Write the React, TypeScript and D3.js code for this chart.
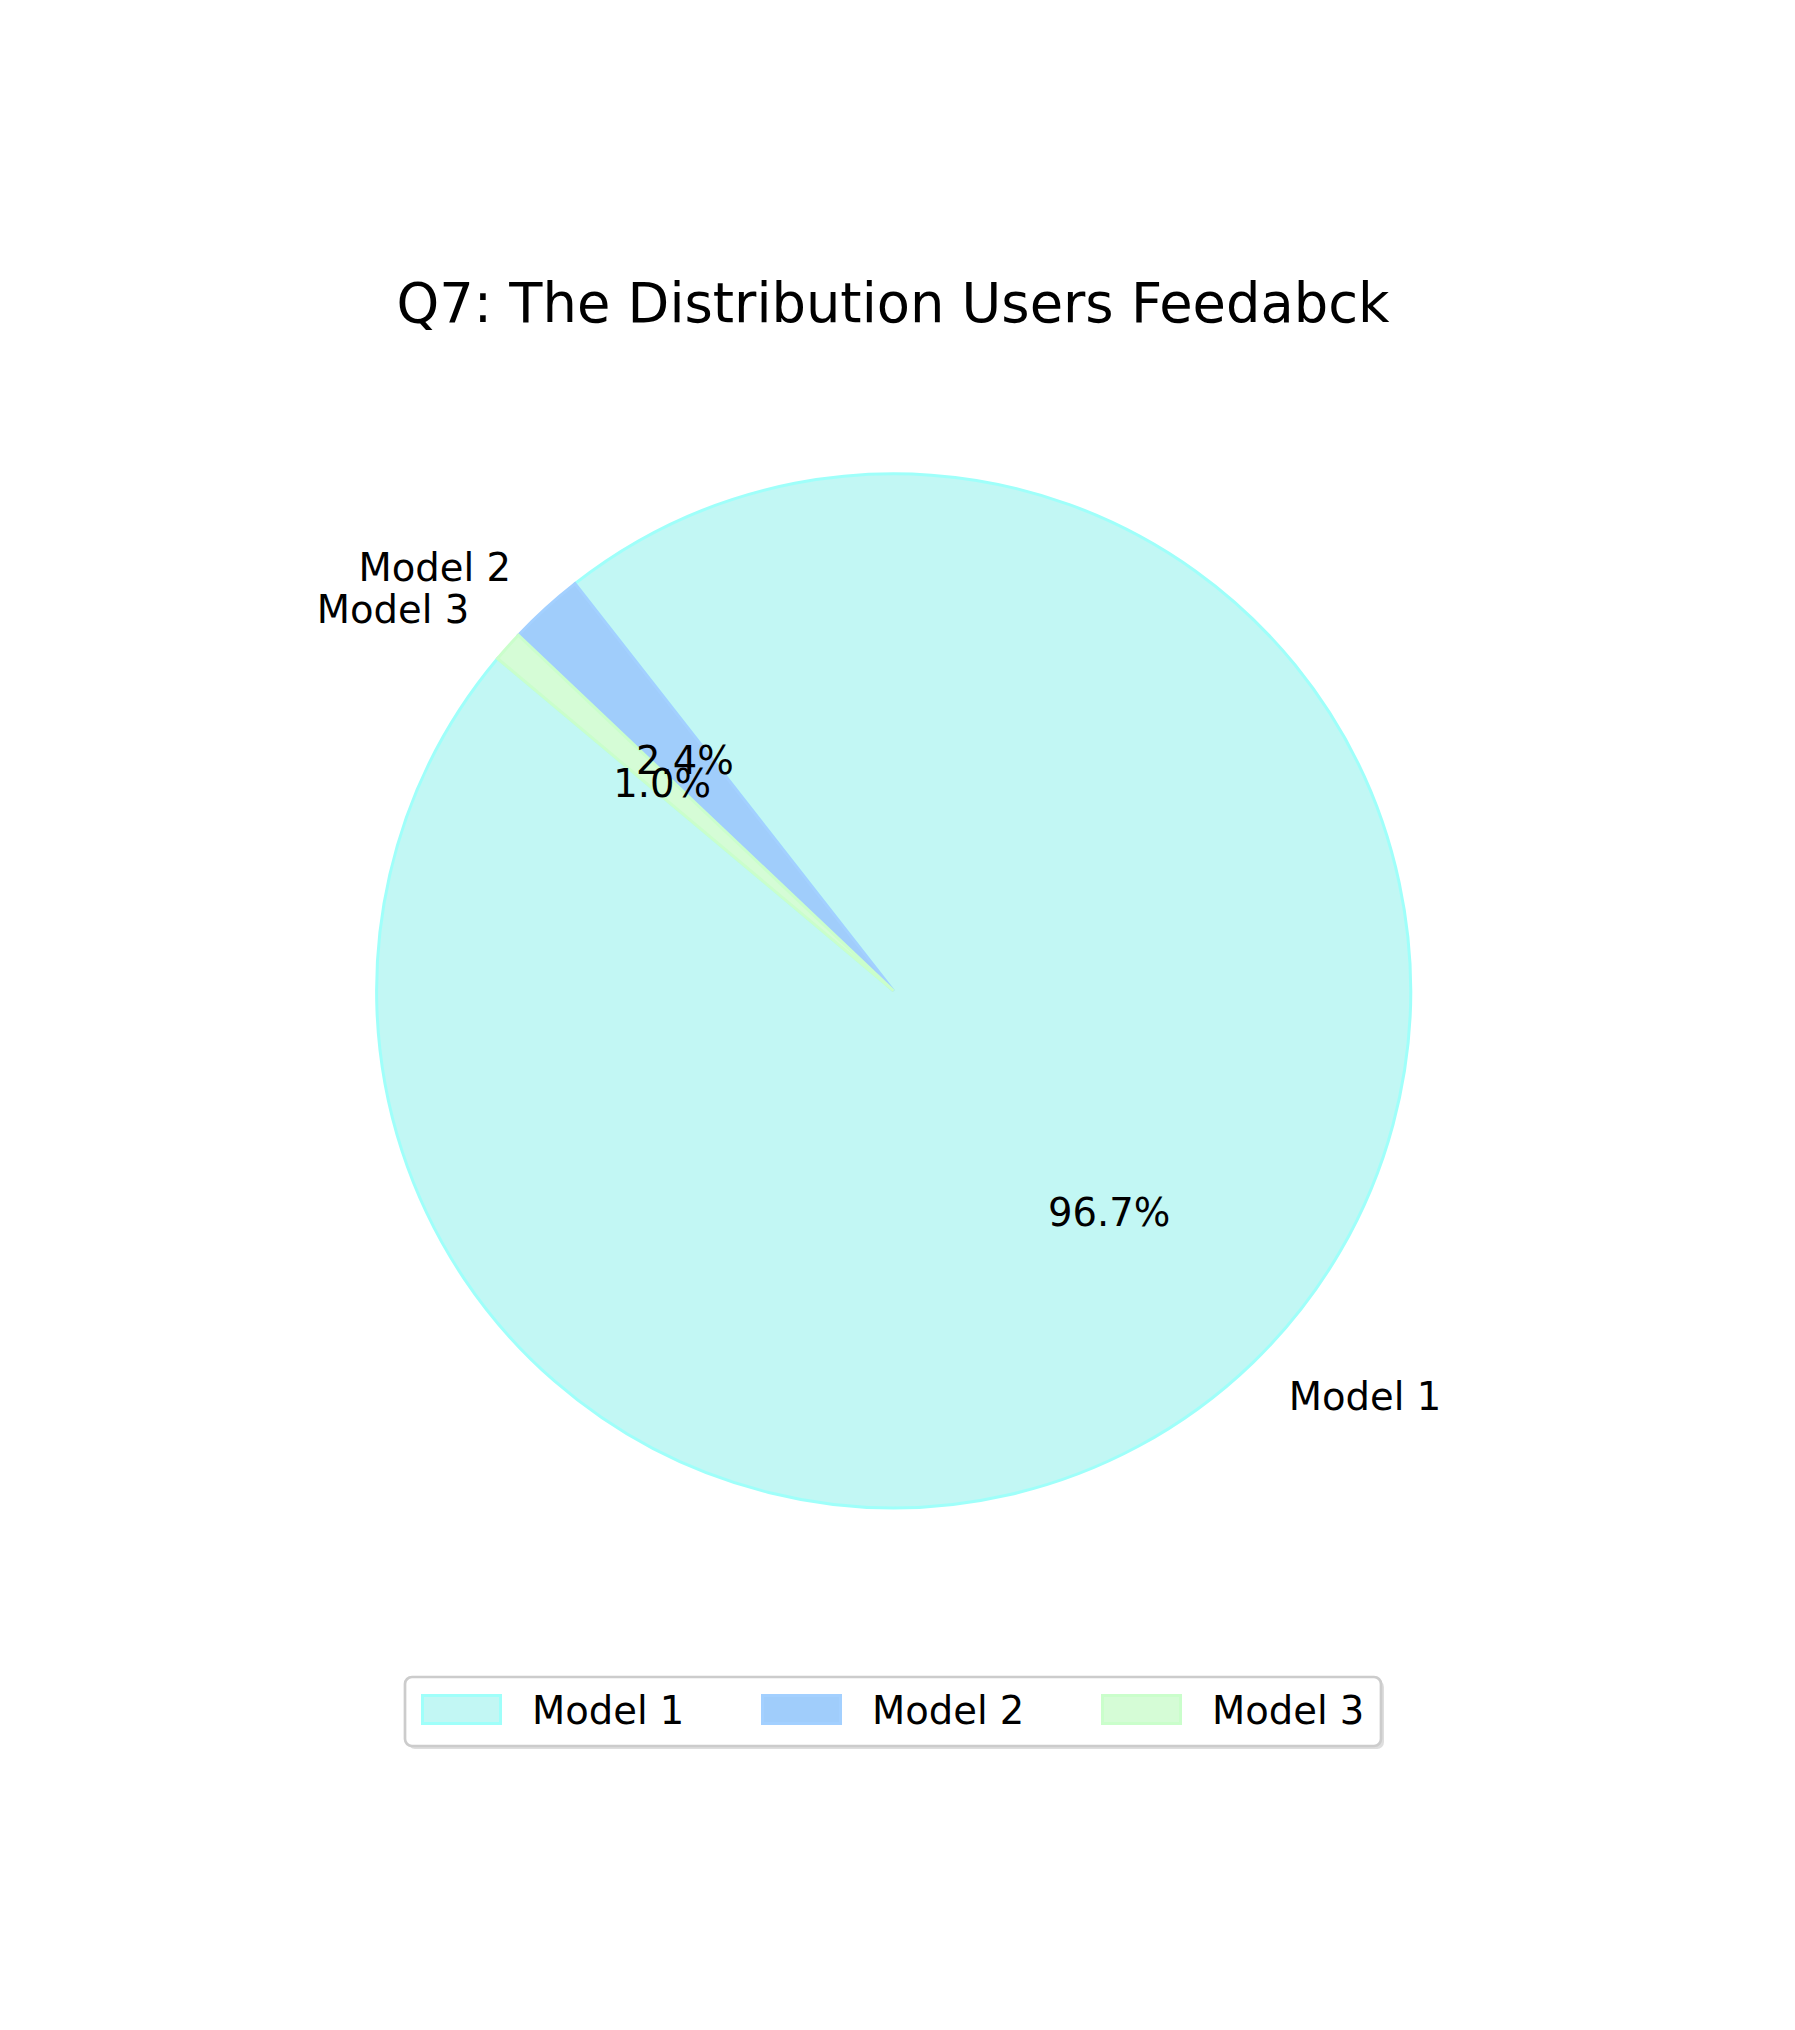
import React from "react";
import * as d3 from "d3";

const title = "Q7: The Distribution Users Feedabck";
const categories = ["Model 1", "Model 2", "Model 3"];
const values = [96.68, 2.36, 0.96];
const fillColors = ["#c2f7f4", "#a0cdfb", "#d5fcd6"];
const strokeColors = ["#9ffffa", "#a3d0ff", "#cafecb"];
const startAngleDeg = 140; // matplotlib-style, counter-clockwise from 3 o'clock

const W = 1795;
const H = 2030;
const cx = 893.6;
const cy = 990.8;
const R = 517;
const FONT = "'DejaVu Sans', Verdana, sans-serif";
const FS = 38.5;

export default function App() {
  const a0 = ((90 - startAngleDeg) * Math.PI) / 180;
  const pie = d3
    .pie<number>()
    .sort(null)
    .value((d) => d)
    .startAngle(a0)
    .endAngle(a0 - 2 * Math.PI);
  const arcs = pie(values);
  const arc = d3.arc<d3.PieArcDatum<number>>().innerRadius(0).outerRadius(R);
  const total = d3.sum(values);

  const legendX = 405;
  const legendY = 1677;
  const legendW = 976;
  const legendH = 69;
  const itemX = [421, 761, 1101];

  return (
    <svg
      width={W}
      height={H}
      style={{ position: "absolute", left: 0, top: 0, background: "#fff" }}
      fontFamily={FONT}
    >
      <rect x={0} y={0} width={W} height={H} fill="#fff" />
      <text x={893} y={322} textAnchor="middle" fontSize={54.3} fill="#000">
        {title}
      </text>
      <g transform={`translate(${cx},${cy})`}>
        {arcs.map((a, i) => (
          <path
            key={categories[i]}
            d={arc(a) || ""}
            fill={fillColors[i]}
            stroke={strokeColors[i]}
            strokeWidth={3}
          />
        ))}
        {arcs.map((a, i) => {
          const mid = (a.startAngle + a.endAngle) / 2;
          const x = 1.1 * R * Math.sin(mid);
          const y = -1.1 * R * Math.cos(mid);
          return (
            <text
              key={"lab" + i}
              x={x}
              y={y}
              dy="0.28em"
              textAnchor={x > 0 ? "start" : "end"}
              fontSize={FS}
              fill="#000"
            >
              {categories[i]}
            </text>
          );
        })}
        {arcs.map((a, i) => {
          const mid = (a.startAngle + a.endAngle) / 2;
          const x = 0.6 * R * Math.sin(mid);
          const y = -0.6 * R * Math.cos(mid);
          return (
            <text
              key={"pct" + i}
              x={x}
              y={y}
              dy="0.32em"
              textAnchor="middle"
              fontSize={FS}
              fill="#000"
            >
              {((values[i] / total) * 100).toFixed(1) + "%"}
            </text>
          );
        })}
      </g>
      <g>
        <rect
          x={legendX + 3}
          y={legendY + 3}
          width={legendW}
          height={legendH}
          rx={7}
          fill="#bdbdbd"
          opacity={0.5}
        />
        <rect
          x={legendX}
          y={legendY}
          width={legendW}
          height={legendH}
          rx={7}
          fill="#fff"
          stroke="#cccccc"
          strokeWidth={2.7}
        />
        {categories.map((c, i) => (
          <g key={"leg" + i}>
            <rect
              x={itemX[i] + 1.5}
              y={1695.5}
              width={78}
              height={28}
              fill={fillColors[i]}
              stroke={strokeColors[i]}
              strokeWidth={3}
            />
            <text x={itemX[i] + 111} y={1713.5} dy="0.26em" fontSize={FS} fill="#000">
              {c}
            </text>
          </g>
        ))}
      </g>
    </svg>
  );
}
